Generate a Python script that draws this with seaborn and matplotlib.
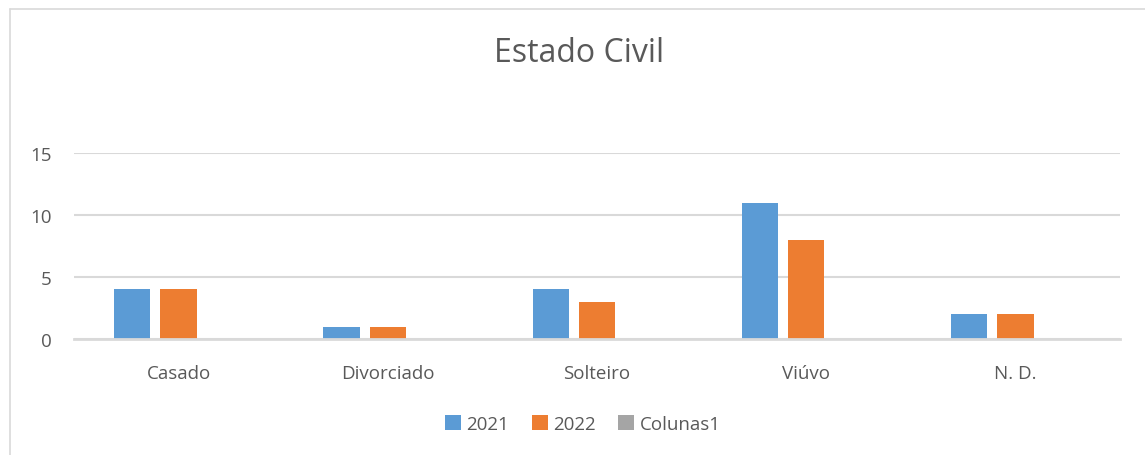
import matplotlib
matplotlib.use("Agg")
import matplotlib.pyplot as plt
from matplotlib.lines import Line2D
import seaborn as sns
import pandas as pd

sns.set_style("white")
plt.rcParams['font.family'] = ['Open Sans', 'DejaVu Sans']

categorias = ['Casado', 'Divorciado', 'Solteiro', 'Viúvo', 'N. D.']
v2021 = [4, 1, 4, 11, 2]
v2022 = [4, 1, 3, 8, 2]
colunas1 = [0, 0, 0, 0, 0]
series = ['2021', '2022', 'Colunas1']
cores = ['#5B9BD5', '#ED7D31', '#A5A5A5']
texto = '#595959'

df = pd.DataFrame({
    'cat': categorias * 3,
    'serie': [s for s in series for _ in categorias],
    'valor': v2021 + v2022 + colunas1,
})

fig = plt.figure(figsize=(11.45, 4.56), dpi=100)
ax = fig.add_axes([74 / 1145, 116 / 456, 1046 / 1145, 186 / 456])

sns.barplot(data=df, x='cat', y='valor', hue='serie', palette=cores,
            width=0.663, gap=0.217, ax=ax, legend=True, saturation=1,
            linewidth=0)

ax.set_ylim(0, 15)
ax.set_xlim(-0.5, 4.5)
ax.set_yticks([0, 5, 10, 15])
ax.yaxis.grid(True, color='#D9D9D9', linewidth=1.5)
ax.set_axisbelow(True)
for s in ['top', 'right', 'left']:
    ax.spines[s].set_visible(False)
ax.spines['bottom'].set_color('#D9D9D9')
ax.spines['bottom'].set_linewidth(2)
ax.tick_params(axis='both', length=0, labelsize=13.5, colors=texto)
ax.tick_params(axis='y', pad=16)
ax.tick_params(axis='x', pad=18)
ax.set_xlabel('')
ax.set_ylabel('')

fig.text(579 / 1145, 1 - 54 / 456, 'Estado Civil', ha='center', va='center',
         fontsize=23, color=texto)

handles, labels = ax.get_legend_handles_labels()
ax.legend(handles, labels, loc='center', bbox_to_anchor=(583 / 1145, 1 - 425 / 456),
          bbox_transform=fig.transFigure, ncol=3, frameon=False, fontsize=13.5,
          handlelength=0.85, handleheight=0.85, handletextpad=0.3,
          columnspacing=1.2, labelcolor=texto)

# moldura do gráfico
fig.add_artist(Line2D([9.5 / 1145, 9.5 / 1145], [0, 1 - 9.5 / 456],
                      transform=fig.transFigure, color='#D9D9D9', linewidth=1.2))
fig.add_artist(Line2D([9.5 / 1145, 1], [1 - 9.5 / 456, 1 - 9.5 / 456],
                      transform=fig.transFigure, color='#D9D9D9', linewidth=1.2))

fig.savefig('out.png', dpi=100)
